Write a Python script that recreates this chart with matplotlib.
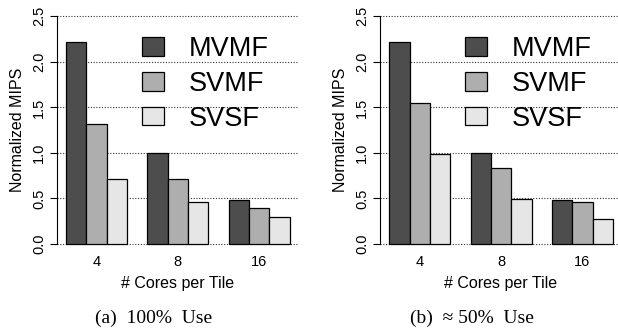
import matplotlib
matplotlib.use("Agg")
import matplotlib.pyplot as plt
from matplotlib.patches import Patch
import numpy as np

cores = ["4", "8", "16"]
series = ["MVMF", "SVMF", "SVSF"]
colors = ["#4D4D4D", "#AEAEAE", "#E6E6E6"]
use100 = {"MVMF": [2.22, 1.00, 0.48], "SVMF": [1.32, 0.71, 0.39], "SVSF": [0.71, 0.46, 0.295]}
use50 = {"MVMF": [2.22, 1.00, 0.48], "SVMF": [1.55, 0.83, 0.46], "SVSF": [0.99, 0.495, 0.275]}
yticks = [0.0, 0.5, 1.0, 1.5, 2.0, 2.5]
captions = ["(a)  100%  Use", "(b)  \u2248 50%  Use"]

plt.rcParams["font.family"] = ["Liberation Sans", "DejaVu Sans"]

W, H = 618, 330
fig = plt.figure(figsize=(W / 100, H / 100), dpi=100)

def draw(ax_left_px, data, caption, cap_x):
    ax = fig.add_axes([ax_left_px / W, (H - 253.1) / H, 241.5 / W, 245.9 / H])
    ax.set_xlim(0.56, 12.44)
    ax.set_ylim(-0.1, 2.6)
    for y in yticks:
        ax.axhline(y, color="#333333", linestyle=(0, (1, 1.5)), linewidth=0.8, zorder=0)
    for k, s in enumerate(series):
        xs = [1 + 4 * g + k for g in range(len(cores))]
        ax.bar(xs, data[s], width=1, align="edge", color=colors[k],
               edgecolor="black", linewidth=0.9, zorder=2, label=s)
    ax.set_xticks([1 + 4 * g + 1.5 for g in range(len(cores))])
    ax.set_xticklabels(cores, fontsize=10.5)
    ax.tick_params(axis="x", length=0, pad=1.5)
    ax.set_yticks(yticks)
    ax.set_yticklabels([f"{v:.1f}" for v in yticks], rotation=90, va="center", fontsize=10.5)
    ax.tick_params(axis="y", length=5, width=0.8, pad=3)
    for sp in ["top", "right", "bottom"]:
        ax.spines[sp].set_visible(False)
    ax.spines["left"].set_bounds(0, 2.5)
    ax.spines["left"].set_linewidth(0.8)
    ax.set_ylabel("Normalized MIPS", fontsize=11.5, labelpad=5)
    ax.set_xlabel("# Cores per Tile", fontsize=11.5, labelpad=5)
    handles = [Patch(facecolor=colors[k], edgecolor="black", linewidth=0.9) for k in range(3)]
    ax.legend(handles, series, loc="upper left",
              bbox_to_anchor=((ax_left_px + 85) / W, 1 - 36 / H),
              bbox_transform=fig.transFigure, frameon=False, fontsize=19.5,
              borderpad=0, borderaxespad=0, handlelength=0.81, handleheight=0.66,
              handletextpad=0.9, labelspacing=0.33)
    fig.text(cap_x / W, 1 - 318 / H, caption, ha="center", va="center",
             fontsize=14, family=["Liberation Serif", "DejaVu Serif"])
    return ax

draw(57, use100, captions[0], 154)
draw(380.3, use50, captions[1], 472)

fig.savefig("out.png", dpi=100)
